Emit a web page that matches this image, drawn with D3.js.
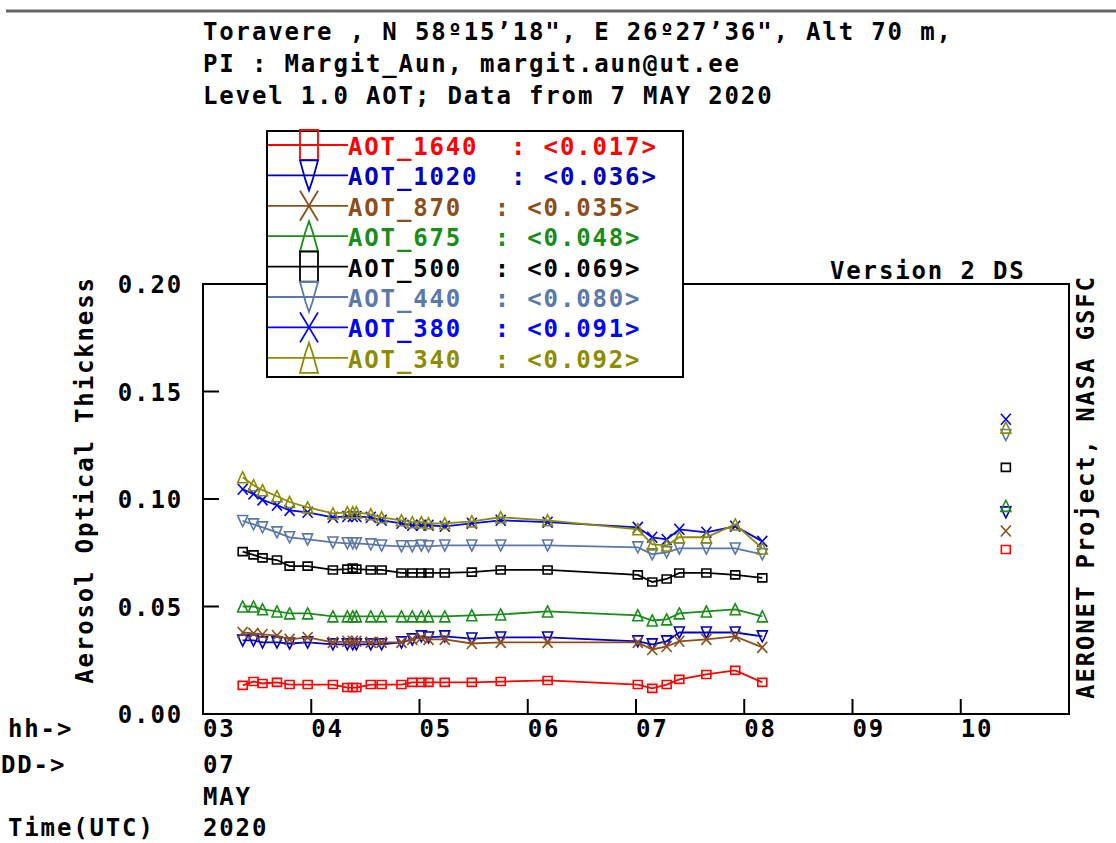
<!DOCTYPE html>
<html>
<head>
<meta charset="utf-8">
<script src="https://cdn.jsdelivr.net/npm/d3@7"></script>
<style>
  body { margin: 0; background: #fff; }
  text { font-family: "DejaVu Sans Mono", monospace; font-weight: bold; font-size: 24px; letter-spacing: 1.85px; white-space: pre; }
</style>
</head>
<body>
<div id="chart"></div>
<script>
// Measurement times (UTC, 7 May 2020)
const times = ["03:22","03:28","03:33","03:41","03:48","03:58","04:12","04:20","04:23","04:25",
  "04:33","04:39","04:50","04:56","05:01","05:05","05:14","05:29","05:45","06:11",
  "07:01","07:09","07:17","07:24","07:39","07:55","08:10"];

// AOT per wavelength
const aot1640 = [0.0133,0.0151,0.0142,0.0147,0.0137,0.0137,0.0137,0.0123,0.0123,0.0123,
  0.0137,0.0137,0.0137,0.0147,0.0147,0.0147,0.0147,0.0147,0.0151,0.0156,
  0.0137,0.0119,0.0137,0.0161,0.0184,0.0203,0.0147];
const aot1020 = [0.0342,0.0342,0.0333,0.0333,0.0328,0.0333,0.0324,0.0324,0.0324,0.0324,
  0.0324,0.0324,0.0333,0.0347,0.0361,0.0356,0.0361,0.0351,0.0356,0.0356,
  0.0338,0.0324,0.0338,0.0379,0.0379,0.0379,0.0361];
const aot870 = [0.0379,0.0375,0.0370,0.0365,0.0347,0.0356,0.0333,0.0338,0.0338,0.0338,
  0.0333,0.0333,0.0333,0.0347,0.0356,0.0347,0.0347,0.0328,0.0333,0.0333,
  0.0333,0.0300,0.0314,0.0338,0.0347,0.0361,0.0310];
const aot675 = [0.0500,0.0500,0.0487,0.0477,0.0468,0.0468,0.0454,0.0454,0.0454,0.0454,
  0.0454,0.0454,0.0454,0.0454,0.0454,0.0454,0.0454,0.0459,0.0463,0.0477,
  0.0459,0.0435,0.0440,0.0468,0.0477,0.0487,0.0454];
const aot500 = [0.0755,0.0740,0.0726,0.0716,0.0688,0.0688,0.0670,0.0674,0.0679,0.0674,
  0.0670,0.0670,0.0656,0.0656,0.0656,0.0656,0.0656,0.0660,0.0670,0.0670,
  0.0647,0.0614,0.0628,0.0656,0.0656,0.0647,0.0633];
const aot440 = [0.0898,0.0882,0.0868,0.0845,0.0822,0.0812,0.0798,0.0794,0.0794,0.0794,
  0.0789,0.0784,0.0780,0.0780,0.0784,0.0780,0.0784,0.0784,0.0784,0.0784,
  0.0775,0.0743,0.0752,0.0770,0.0770,0.0770,0.0743];
const aot380 = [0.1045,0.1024,0.0996,0.0971,0.0947,0.0938,0.0915,0.0919,0.0919,0.0919,
  0.0915,0.0901,0.0887,0.0878,0.0878,0.0878,0.0873,0.0887,0.0901,0.0892,
  0.0868,0.0822,0.0812,0.0859,0.0845,0.0873,0.0803];
const aot340 = [0.1101,0.1064,0.1041,0.1013,0.0986,0.0961,0.0933,0.0938,0.0938,0.0938,
  0.0929,0.0915,0.0901,0.0892,0.0892,0.0887,0.0887,0.0896,0.0915,0.0901,
  0.0859,0.0789,0.0784,0.0822,0.0822,0.0882,0.0770];

// Legend entries (same order as the legend)
const names = ["AOT_1640","AOT_1020","AOT_870","AOT_675","AOT_500","AOT_440","AOT_380","AOT_340"];
const means = ["0.017","0.036","0.035","0.048","0.069","0.080","0.091","0.092"];
const colors = ["#ff0000","#0000c0","#8c4f1c","#1a8c1a","#000000","#5a78a8","#0000ff","#8c8c00"];
const markers = ["square","down","cross","up","square","down","cross","up"];
const allValues = [aot1640, aot1020, aot870, aot675, aot500, aot440, aot380, aot340];

// Isolated points at the right of the plot
const sideTime = "10:25";
const sideValues = [0.0765, 0.0938, 0.0851, 0.0968, 0.1147, 0.1298, 0.1371, 0.1332];

const yTicks = [0, 0.05, 0.10, 0.15, 0.20];
const hourTicks = [3, 4, 5, 6, 7, 8, 9, 10];
const titleLines = [
  "Toravere , N 58\u00ba15\u201918\", E 26\u00ba27\u201936\", Alt 70 m,",
  "PI : Margit_Aun, margit.aun@ut.ee",
  "Level 1.0 AOT; Data from 7 MAY 2020"
];

const W = 1116, H = 843;
const CW = 16.3; // character advance of the monospace font

const toHour = s => { const p = s.split(":"); return +p[0] + +p[1] / 60; };

const svg = d3.select("#chart").append("svg")
  .attr("width", W).attr("height", H);

const x = d3.scaleLinear().domain([3, 11]).range([203, 1069]);
const y = d3.scaleLinear().domain([0, 0.2]).range([714, 284]);

// Marker shapes
function markerPath(type, w, h) {
  if (type === "square") return `M${-w/2},${-h/2}H${w/2}V${h/2}H${-w/2}Z`;
  if (type === "cross") return `M${-w/2},${-h/2}L${w/2},${h/2}M${w/2},${-h/2}L${-w/2},${h/2}`;
  if (type === "down") return `M${-w/2},${-h/2}H${w/2}L${w*0.2},${h*0.15}L0,${h/2}L${-w*0.2},${h*0.15}Z`;
  return `M0,${-h/2}L${w*0.2},${-h*0.15}L${w/2},${h/2}H${-w/2}L${-w*0.2},${-h*0.15}Z`;
}

// Top border line
svg.append("line")
  .attr("x1", 6).attr("x2", W).attr("y1", 11).attr("y2", 11)
  .attr("stroke", "#666").attr("stroke-width", 3);

// Title
titleLines.forEach((t, i) => {
  svg.append("text").attr("x", 203).attr("y", 40 + i * 32).text(t);
});

// Plot frame
svg.append("rect")
  .attr("x", x(3)).attr("y", y(0.2))
  .attr("width", x(11) - x(3)).attr("height", y(0) - y(0.2))
  .attr("fill", "none").attr("stroke", "#000").attr("stroke-width", 2);

// Y ticks and labels
yTicks.forEach(v => {
  svg.append("line")
    .attr("x1", x(3)).attr("x2", x(3) + 16)
    .attr("y1", y(v)).attr("y2", y(v))
    .attr("stroke", "#000").attr("stroke-width", 2);
  svg.append("text")
    .attr("x", 183 - 4 * CW).attr("y", y(v) + 9)
    .text(v.toFixed(2));
});

// X ticks and labels
hourTicks.forEach(h => {
  svg.append("line")
    .attr("x1", x(h)).attr("x2", x(h))
    .attr("y1", y(0)).attr("y2", y(0) - 15)
    .attr("stroke", "#000").attr("stroke-width", 2);
  svg.append("text")
    .attr("x", x(h)).attr("y", 737)
    .text(String(h).padStart(2, "0"));
});

// Time axis labels
svg.append("text").attr("x", 8).attr("y", 737).text("hh->");
svg.append("text").attr("x", 1).attr("y", 773).text("DD->");
svg.append("text").attr("x", 8).attr("y", 836).text("Time(UTC)");
svg.append("text").attr("x", x(3)).attr("y", 773).text("07");
svg.append("text").attr("x", x(3)).attr("y", 805).text("MAY");
svg.append("text").attr("x", x(3)).attr("y", 836).text("2020");

// Axis titles
svg.append("text")
  .attr("transform", "translate(93,480) rotate(-90)")
  .attr("text-anchor", "middle")
  .text("Aerosol Optical Thickness");

svg.append("text")
  .attr("transform", "translate(1094,487) rotate(-90)")
  .attr("text-anchor", "middle")
  .text("AERONET Project, NASA GSFC");

svg.append("text").attr("x", 830).attr("y", 279).text("Version 2 DS");

// Series lines and markers
const line = d3.line()
  .x(d => x(d.h))
  .y(d => y(d.v));

names.forEach((name, i) => {
  const pts = times.map((t, j) => ({ h: toHour(t), v: allValues[i][j] }));
  const g = svg.append("g");
  g.append("path")
    .datum(pts)
    .attr("fill", "none")
    .attr("stroke", colors[i])
    .attr("stroke-width", 1.8)
    .attr("d", line);
  const mw = markers[i] === "square" ? 9 : 10;
  const mh = markers[i] === "square" ? 8 : 11;
  g.selectAll("path.m")
    .data(pts)
    .enter()
    .append("path")
    .attr("class", "m")
    .attr("transform", d => `translate(${x(d.h)},${y(d.v)})`)
    .attr("d", markerPath(markers[i], mw, mh))
    .attr("fill", "none")
    .attr("stroke", colors[i])
    .attr("stroke-width", 1.6);
  // isolated point at the right
  svg.append("path")
    .attr("transform", `translate(${x(toHour(sideTime))},${y(sideValues[i])})`)
    .attr("d", markerPath(markers[i], mw, mh))
    .attr("fill", "none")
    .attr("stroke", colors[i])
    .attr("stroke-width", 1.6);
});

// Legend
const legend = svg.append("g");
legend.append("rect")
  .attr("x", 267).attr("y", 131)
  .attr("width", 416).attr("height", 246)
  .attr("fill", "#fff").attr("stroke", "#000").attr("stroke-width", 2);

names.forEach((name, i) => {
  const cy = 145 + i * 30.4;
  legend.append("line")
    .attr("x1", 268).attr("x2", 348)
    .attr("y1", cy).attr("y2", cy)
    .attr("stroke", colors[i]).attr("stroke-width", 1.8);
  legend.append("path")
    .attr("transform", `translate(309,${cy})`)
    .attr("d", markerPath(markers[i], 18, 30))
    .attr("fill", "none")
    .attr("stroke", colors[i])
    .attr("stroke-width", 1.8);
  legend.append("text")
    .attr("x", 348).attr("y", cy + 10)
    .attr("fill", colors[i])
    .text(`${name}  : <${means[i]}>`);
});
</script>
</body>
</html>
